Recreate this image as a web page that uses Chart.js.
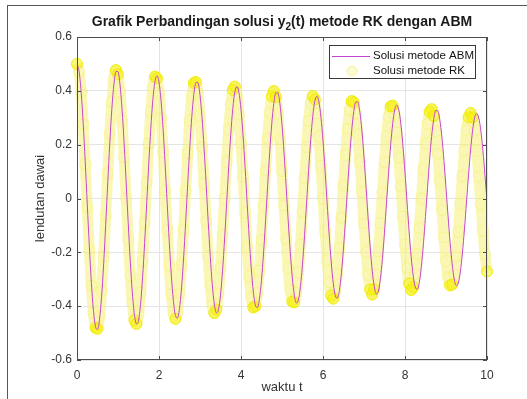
<!DOCTYPE html>
<html lang="id">
<head>
<meta charset="UTF-8">
<title>Grafik Perbandingan</title>
<style>
  body { margin: 0; background: #fff; }
  #wrap { position: relative; width: 527px; height: 399px; }
  #frame { position: absolute; left: 7px; top: 5px; right: 0; bottom: 0;
           border-top: 1px solid #555; border-left: 1px solid #555; pointer-events: none; }
  canvas { display: block; }
</style>
</head>
<body>
<div id="wrap">
  <canvas id="myChart" width="527" height="399"></canvas>
  <div id="frame"></div>
</div>

<script src="https://cdn.jsdelivr.net/npm/chart.js"></script>
<script>
// waktu t (langkah 0.05)
const times = [
  0, 0.05, 0.1, 0.15, 0.2, 0.25, 0.3, 0.35, 0.4, 0.45, 0.5, 0.55, 0.6, 0.65, 0.7, 0.75, 0.8, 0.85, 0.9, 0.95,
  1, 1.05, 1.1, 1.15, 1.2, 1.25, 1.3, 1.35, 1.4, 1.45, 1.5, 1.55, 1.6, 1.65, 1.7, 1.75, 1.8, 1.85, 1.9, 1.95,
  2, 2.05, 2.1, 2.15, 2.2, 2.25, 2.3, 2.35, 2.4, 2.45, 2.5, 2.55, 2.6, 2.65, 2.7, 2.75, 2.8, 2.85, 2.9, 2.95,
  3, 3.05, 3.1, 3.15, 3.2, 3.25, 3.3, 3.35, 3.4, 3.45, 3.5, 3.55, 3.6, 3.65, 3.7, 3.75, 3.8, 3.85, 3.9, 3.95,
  4, 4.05, 4.1, 4.15, 4.2, 4.25, 4.3, 4.35, 4.4, 4.45, 4.5, 4.55, 4.6, 4.65, 4.7, 4.75, 4.8, 4.85, 4.9, 4.95,
  5, 5.05, 5.1, 5.15, 5.2, 5.25, 5.3, 5.35, 5.4, 5.45, 5.5, 5.55, 5.6, 5.65, 5.7, 5.75, 5.8, 5.85, 5.9, 5.95,
  6, 6.05, 6.1, 6.15, 6.2, 6.25, 6.3, 6.35, 6.4, 6.45, 6.5, 6.55, 6.6, 6.65, 6.7, 6.75, 6.8, 6.85, 6.9, 6.95,
  7, 7.05, 7.1, 7.15, 7.2, 7.25, 7.3, 7.35, 7.4, 7.45, 7.5, 7.55, 7.6, 7.65, 7.7, 7.75, 7.8, 7.85, 7.9, 7.95,
  8, 8.05, 8.1, 8.15, 8.2, 8.25, 8.3, 8.35, 8.4, 8.45, 8.5, 8.55, 8.6, 8.65, 8.7, 8.75, 8.8, 8.85, 8.9, 8.95,
  9, 9.05, 9.1, 9.15, 9.2, 9.25, 9.3, 9.35, 9.4, 9.45, 9.5, 9.55, 9.6, 9.65, 9.7, 9.75, 9.8, 9.85, 9.9, 9.95,
  10
];

// solusi metode ABM (garis)
const abmValues = [
  0.500, 0.473, 0.398, 0.282, 0.138, -0.020, -0.175, -0.311, -0.415, -0.475, -0.487, -0.448, -0.364, -0.243, -0.097, 0.058, 0.206, 0.333, 0.424, 0.472,
  0.471, 0.421, 0.329, 0.203, 0.057, -0.094, -0.235, -0.351, -0.431, -0.466, -0.453, -0.393, -0.293, -0.164, -0.019, 0.128, 0.261, 0.366, 0.434, 0.456,
  0.432, 0.363, 0.257, 0.126, -0.018, -0.160, -0.284, -0.378, -0.434, -0.444, -0.409, -0.332, -0.221, -0.088, 0.053, 0.188, 0.304, 0.387, 0.431, 0.430,
  0.384, 0.300, 0.185, 0.052, -0.086, -0.215, -0.321, -0.393, -0.425, -0.413, -0.359, -0.268, -0.150, -0.017, 0.117, 0.238, 0.334, 0.396, 0.416, 0.394,
  0.331, 0.235, 0.115, -0.017, -0.146, -0.259, -0.345, -0.396, -0.405, -0.373, -0.303, -0.202, -0.081, 0.048, 0.172, 0.277, 0.353, 0.393, 0.392, 0.351,
  0.274, 0.169, 0.047, -0.079, -0.196, -0.292, -0.359, -0.388, -0.377, -0.327, -0.244, -0.137, -0.015, 0.107, 0.217, 0.305, 0.361, 0.380, 0.359, 0.302,
  0.214, 0.105, -0.015, -0.133, -0.236, -0.315, -0.361, -0.370, -0.341, -0.276, -0.184, -0.074, 0.044, 0.157, 0.253, 0.322, 0.359, 0.358, 0.320, 0.250,
  0.154, 0.043, -0.072, -0.179, -0.267, -0.327, -0.354, -0.344, -0.298, -0.223, -0.125, -0.014, 0.097, 0.198, 0.278, 0.330, 0.347, 0.328, 0.276, 0.195,
  0.096, -0.014, -0.121, -0.216, -0.287, -0.329, -0.337, -0.311, -0.252, -0.168, -0.067, 0.040, 0.143, 0.231, 0.294, 0.327, 0.326, 0.292, 0.228, 0.141,
  0.039, -0.065, -0.163, -0.243, -0.299, -0.323, -0.314, -0.272, -0.203, -0.114, -0.013, 0.089, 0.181, 0.254, 0.301, 0.316, 0.299, 0.252, 0.178, 0.087,
  -0.013
];

// solusi metode RK (lingkaran)
const rkValues = [
  0.500, 0.472, 0.395, 0.276, 0.128, -0.032, -0.189, -0.324, -0.425, -0.480, -0.484, -0.437, -0.344, -0.215, -0.063, 0.094, 0.241, 0.361, 0.443, 0.477,
  0.461, 0.396, 0.289, 0.152, 0.000, -0.152, -0.286, -0.390, -0.452, -0.466, -0.431, -0.350, -0.232, -0.090, 0.060, 0.204, 0.325, 0.411, 0.453, 0.447,
  0.394, 0.299, 0.173, 0.030, -0.117, -0.250, -0.356, -0.424, -0.447, -0.422, -0.353, -0.246, -0.115, 0.029, 0.169, 0.290, 0.380, 0.429, 0.433, 0.390,
  0.307, 0.192, 0.056, -0.084, -0.215, -0.323, -0.396, -0.426, -0.412, -0.354, -0.258, -0.136, 0.000, 0.135, 0.256, 0.349, 0.404, 0.416, 0.385, 0.312,
  0.207, 0.081, -0.054, -0.182, -0.290, -0.367, -0.405, -0.400, -0.352, -0.268, -0.155, -0.026, 0.104, 0.223, 0.318, 0.379, 0.399, 0.377, 0.315, 0.220,
  0.102, -0.026, -0.151, -0.259, -0.339, -0.383, -0.386, -0.349, -0.274, -0.171, -0.050, 0.075, 0.192, 0.288, 0.353, 0.381, 0.368, 0.316, 0.231, 0.122,
  0.000, -0.121, -0.229, -0.311, -0.361, -0.372, -0.344, -0.279, -0.185, -0.072, 0.048, 0.163, 0.259, 0.328, 0.362, 0.357, 0.315, 0.239, 0.138, 0.024,
  -0.093, -0.199, -0.284, -0.338, -0.357, -0.337, -0.282, -0.197, -0.091, 0.023, 0.135, 0.231, 0.303, 0.342, 0.345, 0.312, 0.245, 0.153, 0.045, -0.067,
  -0.172, -0.257, -0.316, -0.340, -0.329, -0.282, -0.206, -0.109, 0.000, 0.108, 0.204, 0.278, 0.322, 0.332, 0.307, 0.249, 0.165, 0.064, -0.043, -0.145,
  -0.232, -0.293, -0.323, -0.319, -0.281, -0.213, -0.124, -0.021, 0.083, 0.178, 0.254, 0.302, 0.318, 0.301, 0.252, 0.176, 0.082, -0.021, -0.120, -0.207,
  -0.271
];

const xTicks = [0, 2, 4, 6, 8, 10];
const yTicks = [-0.6, -0.4, -0.2, 0, 0.2, 0.4, 0.6];
const seriesLabels = ['Solusi metode ABM', 'Solusi metode RK'];
const titleParts = ['Grafik Perbandingan solusi y', '2', '(t) metode RK dengan ABM'];
const xLabel = 'waktu t';
const yLabel = 'lendutan dawai';

const FONT = "'Liberation Sans', Arial, sans-serif";
const AXIS_COLOR = '#4d4d4d';
const ABM_COLOR = 'rgb(196, 70, 206)';
const RK_BAND = 'rgba(247, 242, 130, 0.6)';

// di puncak/lembah lingkaran RK menumpuk -> lebih pekat
function rkFlat(ctx) {
  const i = ctx.dataIndex;
  const a = rkValues[Math.max(i - 1, 0)], b = rkValues[Math.min(i + 1, rkValues.length - 1)];
  return Math.abs(b - a) < 0.09;
}

const matlabStyle = {
  id: 'matlabStyle',
  afterDatasetsDraw(chart) {
    const { ctx, chartArea: a, scales } = chart;
    ctx.save();
    ctx.strokeStyle = AXIS_COLOR;
    ctx.lineWidth = 1;
    ctx.strokeRect(a.left + 0.5, a.top + 0.5, a.right - a.left - 1, a.bottom - a.top - 1);
    ctx.beginPath();
    xTicks.forEach(v => {
      const px = Math.round(scales.x.getPixelForValue(v)) + 0.5;
      ctx.moveTo(px, a.bottom); ctx.lineTo(px, a.bottom - 4);
      ctx.moveTo(px, a.top); ctx.lineTo(px, a.top + 4);
    });
    yTicks.forEach(v => {
      const py = Math.round(scales.y.getPixelForValue(v)) + 0.5;
      ctx.moveTo(a.left, py); ctx.lineTo(a.left + 4, py);
      ctx.moveTo(a.right, py); ctx.lineTo(a.right - 4, py);
    });
    ctx.stroke();

    // legenda
    const lx = 329.5, ly = 45.5, lw = 146, lh = 33;
    ctx.fillStyle = '#fff';
    ctx.fillRect(lx, ly, lw, lh);
    ctx.strokeStyle = '#3a3a3a';
    ctx.strokeRect(lx, ly, lw, lh);
    ctx.strokeStyle = ABM_COLOR;
    ctx.beginPath();
    ctx.moveTo(332, 56.5); ctx.lineTo(370, 56.5);
    ctx.stroke();
    ctx.strokeStyle = 'rgba(240, 236, 60, 0.5)';
    ctx.fillStyle = 'rgba(250, 247, 180, 0.6)';
    ctx.beginPath();
    ctx.arc(352, 71, 5, 0, Math.PI * 2);
    ctx.fill(); ctx.stroke();
    ctx.fillStyle = '#111';
    ctx.font = '11.5px ' + FONT;
    ctx.textAlign = 'left';
    ctx.textBaseline = 'middle';
    const ds = chart.data.datasets;
    ctx.fillText(ds[0].label, 373, 56);
    ctx.fillText(ds[1].label, 373, 71);
    ctx.restore();
  },
  afterDraw(chart) {
    const { ctx, chartArea: a } = chart;
    const cx = (a.left + a.right) / 2;
    ctx.save();
    ctx.fillStyle = '#1a1a1a';
    const big = 'bold 14px ' + FONT, small = 'bold 10px ' + FONT;
    ctx.font = big;
    const w0 = ctx.measureText(titleParts[0]).width;
    const w2 = ctx.measureText(titleParts[2]).width;
    ctx.font = small;
    const w1 = ctx.measureText(titleParts[1]).width;
    const x0 = cx - (w0 + w1 + w2) / 2;
    ctx.textAlign = 'left';
    ctx.textBaseline = 'alphabetic';
    ctx.font = big;
    ctx.fillText(titleParts[0], x0, 26);
    ctx.font = small;
    ctx.fillText(titleParts[1], x0 + w0, 30);
    ctx.font = big;
    ctx.fillText(titleParts[2], x0 + w0 + w1, 26);

    ctx.fillStyle = '#333';
    ctx.font = '13px ' + FONT;
    ctx.textAlign = 'center';
    ctx.textBaseline = 'middle';
    ctx.fillText(xLabel, cx, 387);
    ctx.translate(40, (a.top + a.bottom) / 2);
    ctx.rotate(-Math.PI / 2);
    ctx.fillText(yLabel, 0, 0);
    ctx.restore();
  }
};

new Chart(document.getElementById('myChart'), {
  type: 'line',
  data: {
    datasets: [
      {
        label: seriesLabels[0],
        data: times.map((t, i) => ({ x: t, y: abmValues[i] })),
        borderColor: ABM_COLOR,
        borderWidth: 1,
        pointRadius: 0,
        cubicInterpolationMode: 'monotone',
        fill: false
      },
      {
        label: seriesLabels[1],
        data: times.map((t, i) => ({ x: t, y: rkValues[i] })),
        borderColor: RK_BAND,
        borderWidth: 11,
        pointRadius: 5.5,
        pointBorderWidth: 1,
        pointBorderColor: ctx => rkFlat(ctx) ? 'rgba(238, 234, 0, 0.9)' : 'rgba(240, 236, 60, 0.35)',
        pointBackgroundColor: ctx => rkFlat(ctx) ? 'rgba(245, 242, 20, 0.55)' : 'rgba(255, 255, 255, 0)',
        cubicInterpolationMode: 'monotone',
        clip: 8,
        fill: false
      }
    ]
  },
  options: {
    responsive: false,
    animation: false,
    devicePixelRatio: 1,
    layout: { padding: { left: 0, right: 40, top: 37, bottom: 0 } },
    plugins: {
      legend: { display: false },
      title: { display: false },
      tooltip: { enabled: false }
    },
    scales: {
      x: {
        type: 'linear',
        min: 0, max: 10,
        afterBuildTicks: s => { s.ticks = xTicks.map(v => ({ value: v })); },
        afterFit: s => { s.height = 39; },
        grid: { color: '#e4e4e4', drawTicks: false },
        border: { display: false },
        ticks: { padding: 8, color: '#333', font: { family: FONT, size: 12 }, maxRotation: 0,
                 callback: v => String(v) }
      },
      y: {
        min: -0.6, max: 0.6,
        afterBuildTicks: s => { s.ticks = yTicks.map(v => ({ value: v })); },
        afterFit: s => { s.width = 77; },
        grid: { color: '#e4e4e4', drawTicks: false },
        border: { display: false },
        ticks: { padding: 5, color: '#333', font: { family: FONT, size: 12 },
                 callback: v => String(Math.round(v * 10) / 10) }
      }
    }
  },
  plugins: [matlabStyle]
});
</script>
</body>
</html>
